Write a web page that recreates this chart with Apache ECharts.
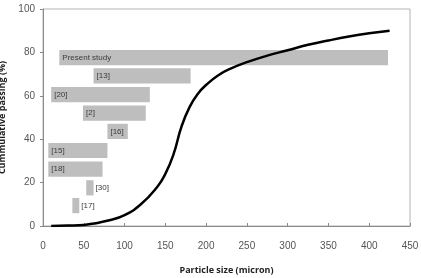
<!DOCTYPE html>
<html lang="en">
<head>
    <meta charset="UTF-8">
    <title>particle size</title>
    <script src="https://cdn.jsdelivr.net/npm/echarts@6/dist/echarts.min.js"></script>
    <style>
        html, body { margin: 0; padding: 0; background: #fff; }
        #chart { width: 421px; height: 278px; }
    </style>
</head>
<body>
    <div id="chart"></div>
    <script>
        // grading curve (particle size, % passing)
        var curveSize = [10, 30, 50, 60, 80, 100, 120, 140, 150, 160, 170, 180, 190, 200, 215, 230, 250, 275, 300, 325, 350, 375, 400, 425];
        var curvePass = [0, 0.2, 0.5, 1, 2.5, 5, 10, 18, 24, 33, 46, 55, 61, 65, 69.5, 72.5, 75.5, 78.5, 81, 83.5, 85.5, 87.3, 88.8, 90];

        // size ranges from the literature
        var rangeNames = ['Present study', '[13]', '[20]', '[2]', '[16]', '[15]', '[18]', '[30]', '[17]'];
        var rangeMin = [20, 62, 10, 49, 79, 6.5, 6.5, 53, 36];
        var rangeMax = [423, 181, 131, 126, 104, 79, 73, 62, 44.5];
        var rangeLevel = [77.6, 69.2, 60.5, 52, 43.6, 34.8, 26.2, 17.6, 9.4];

        var xTicks = [0, 50, 100, 150, 200, 250, 300, 350, 400, 450];
        var yTicks = [0, 20, 40, 60, 80, 100];

        var curveData = [];
        for (var i = 0; i < curveSize.length; i++) {
            curveData.push([curveSize[i], curvePass[i]]);
        }
        var rangeData = [];
        for (var k = 0; k < rangeNames.length; k++) {
            rangeData.push([rangeMin[k], rangeMax[k], rangeLevel[k], rangeNames[k]]);
        }

        var chart = echarts.init(document.getElementById('chart'));

        var option = {
            animation: false,
            grid: {
                left: 43, right: 11, top: 9, bottom: 52,
                outerBoundsMode: 'none',
                containLabel: false,
                show: true,
                borderColor: '#b4b4b4',
                borderWidth: 1
            },
            xAxis: {
                type: 'value',
                min: xTicks[0],
                max: xTicks[xTicks.length - 1],
                interval: 50,
                name: 'Particle size (micron)',
                nameLocation: 'middle',
                nameGap: 40,
                nameTextStyle: { fontFamily: 'Open Sans', fontWeight: 'bold', fontSize: 9, color: '#222' },
                axisLine: { lineStyle: { color: '#8a8a8a' } },
                axisTick: { inside: true, length: 3, lineStyle: { color: '#8a8a8a' } },
                axisLabel: { fontFamily: 'Liberation Sans', fontSize: 10, color: '#555', margin: 15 },
                splitLine: { show: false }
            },
            yAxis: {
                type: 'value',
                min: yTicks[0],
                max: yTicks[yTicks.length - 1],
                interval: 20,
                name: 'Cummulative passing (%)',
                nameLocation: 'middle',
                nameGap: 33,
                nameTextStyle: { fontFamily: 'Open Sans', fontWeight: 'bold', fontSize: 9, color: '#222' },
                axisLine: { show: true, lineStyle: { color: '#8a8a8a' } },
                axisTick: { show: true, length: 3, lineStyle: { color: '#8a8a8a' } },
                axisLabel: { fontFamily: 'Liberation Sans', fontSize: 10, color: '#555', margin: 8 },
                splitLine: { show: false }
            },
            series: [
                {
                    type: 'custom',
                    data: rangeData,
                    z: 1,
                    renderItem: function (params, api) {
                        var p0 = api.coord([api.value(0), api.value(2)]);
                        var p1 = api.coord([api.value(1), api.value(2)]);
                        var h = api.size([0, 7])[1];
                        var name = rangeNames[params.dataIndex];
                        var outside = (p1[0] - p0[0]) < 14;
                        return {
                            type: 'rect',
                            shape: { x: p0[0], y: p0[1] - h / 2, width: p1[0] - p0[0], height: h },
                            style: { fill: '#bebebe' },
                            textContent: {
                                style: {
                                    text: name,
                                    fontFamily: 'Liberation Sans',
                                    fontSize: 8,
                                    fill: '#3a3a3a'
                                }
                            },
                            textConfig: {
                                position: outside ? 'right' : 'insideLeft',
                                distance: outside ? 2 : 3
                            }
                        };
                    }
                },
                {
                    type: 'line',
                    data: curveData,
                    smooth: true,
                    showSymbol: false,
                    z: 3,
                    lineStyle: { color: '#000', width: 2.5 }
                }
            ]
        };
        chart.setOption(option);
    </script>
</body>
</html>
